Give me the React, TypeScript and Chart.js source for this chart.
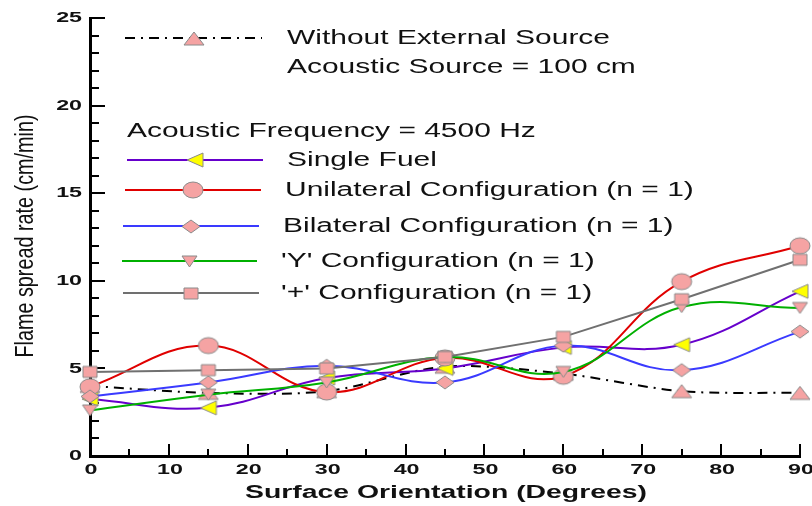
import { useEffect, useRef } from "react";
import { Chart, registerables } from "chart.js";

Chart.register(...registerables);

// ---------- data ----------
const orientations = [0, 15, 30, 45, 60, 75, 90];
const withoutSource = [4.0, 3.6, 3.7, 5.1, 4.7, 3.7, 3.6];
const singleFuel = [3.25, 2.75, 4.45, 5.0, 6.2, 6.35, 9.4];
const unilateral = [3.95, 6.3, 3.65, 5.6, 4.55, 9.95, 12.0];
const bilateral = [3.4, 4.2, 5.15, 4.2, 6.3, 4.9, 7.1];
const yConfig = [2.6, 3.5, 4.2, 5.65, 4.8, 8.5, 8.45];
const plusConfig = [4.8, 4.9, 5.0, 5.65, 6.8, 8.95, 11.2];

const seriesNames = [
  "Without External Source",
  "Single Fuel",
  "Unilateral Configuration (n = 1)",
  "Bilateral Configuration (n = 1)",
  "'Y' Configuration (n = 1)",
  "'+' Configuration (n = 1)",
];
const noteSource = "Acoustic Source = 100 cm";
const noteFrequency = "Acoustic Frequency = 4500 Hz";
const xTitle = "Surface Orientation (Degrees)";
const yTitle = "Flame spread rate (cm/min)";
const xTickLabels = [0, 10, 20, 30, 40, 50, 60, 70, 80, 90];
const yTickLabels = [0, 5, 10, 15, 20, 25];

// ---------- styling helpers ----------
const PINK = "#F5A3A3";
const MARK_EDGE = "#8a8a8a";
const YELLOW = "#FFFF00";

type Shape = "ellipse" | "triLeft" | "triDown" | "triUp" | "diamond" | "square";

function makeMarker(shape: Shape, w: number, h: number, fill: string) {
  const c = document.createElement("canvas");
  const pad = 2;
  c.width = w + pad * 2;
  c.height = h + pad * 2;
  const ctx = c.getContext("2d")!;
  ctx.translate(pad, pad);
  ctx.beginPath();
  switch (shape) {
    case "ellipse":
      ctx.ellipse(w / 2, h / 2, w / 2, h / 2, 0, 0, Math.PI * 2);
      break;
    case "triLeft":
      ctx.moveTo(0, h / 2);
      ctx.lineTo(w, 0);
      ctx.lineTo(w, h);
      break;
    case "triDown":
      ctx.moveTo(0, 0);
      ctx.lineTo(w, 0);
      ctx.lineTo(w / 2, h);
      break;
    case "triUp":
      ctx.moveTo(w / 2, 0);
      ctx.lineTo(w, h);
      ctx.lineTo(0, h);
      break;
    case "diamond":
      ctx.moveTo(w / 2, 0);
      ctx.lineTo(w, h / 2);
      ctx.lineTo(w / 2, h);
      ctx.lineTo(0, h / 2);
      break;
    case "square":
      ctx.rect(0, 0, w, h);
      break;
  }
  ctx.closePath();
  ctx.fillStyle = fill;
  ctx.fill();
  ctx.lineWidth = 1;
  ctx.strokeStyle = MARK_EDGE;
  ctx.stroke();
  return c;
}

function drawStretched(
  ctx: CanvasRenderingContext2D,
  text: string,
  x: number,
  y: number,
  font: string,
  sx: number,
  align: "left" | "center" | "right"
) {
  ctx.save();
  ctx.font = font;
  ctx.textBaseline = "middle";
  ctx.textAlign = "left";
  const w = ctx.measureText(text).width * sx;
  const x0 = align === "left" ? x : align === "center" ? x - w / 2 : x - w;
  ctx.translate(x0, y);
  ctx.scale(sx, 1);
  ctx.fillText(text, 0, 0);
  ctx.restore();
}

export default function App() {
  const ref = useRef<HTMLCanvasElement | null>(null);

  useEffect(() => {
    if (!ref.current) return;
    const markers = [
      makeMarker("triUp", 20, 13, PINK),
      makeMarker("triLeft", 16, 14, YELLOW),
      makeMarker("ellipse", 20, 16, PINK),
      makeMarker("diamond", 18, 13, PINK),
      makeMarker("triDown", 15, 11, PINK),
      makeMarker("square", 14, 11, PINK),
    ];
    const colors = ["#000000", "#6600CC", "#E00000", "#3A3AFF", "#00B000", "#707070"];
    const values = [withoutSource, singleFuel, unilateral, bilateral, yConfig, plusConfig];
    const tensions = [0.3, 0.4, 0.4, 0.4, 0.4, 0];
    const dashes = [[10, 6, 2, 6], [], [], [], [], []];

    const TEXT = "#111111";

    const overlay = {
      id: "overlay",
      beforeDatasetsDraw(chart: any) {
        const ctx: CanvasRenderingContext2D = chart.ctx;
        const xs = chart.scales.x;
        const ys = chart.scales.y;
        const area = chart.chartArea;
        ctx.save();
        ctx.strokeStyle = "#000";
        ctx.lineWidth = 2;
        for (let v = 0; v <= 25; v++) {
          const py = Math.round(ys.getPixelForValue(v));
          const len = v % 5 === 0 ? 15 : 9;
          ctx.beginPath();
          ctx.moveTo(area.left, py);
          ctx.lineTo(area.left + len, py);
          ctx.stroke();
        }
        for (let v = 0; v <= 90; v += 5) {
          const px = Math.round(xs.getPixelForValue(v));
          const len = v % 10 === 0 ? 12 : 7;
          ctx.beginPath();
          ctx.moveTo(px, area.bottom);
          ctx.lineTo(px, area.bottom - len);
          ctx.stroke();
        }
        ctx.restore();
      },
      afterDraw(chart: any) {
        const ctx: CanvasRenderingContext2D = chart.ctx;
        const xs = chart.scales.x;
        const ys = chart.scales.y;
        ctx.save();
        ctx.fillStyle = TEXT;
        const tickFont = "bold 15px 'Liberation Sans'";
        for (const v of yTickLabels) {
          drawStretched(ctx, String(v), 82, ys.getPixelForValue(v), tickFont, 1.55, "right");
        }
        for (const v of xTickLabels) {
          drawStretched(ctx, String(v), xs.getPixelForValue(v) + 1, 470, tickFont, 1.55, "center");
        }
        // x title
        const xtFont = "bold 18px 'Liberation Sans'";
        ctx.font = xtFont;
        const xtScale = 402 / ctx.measureText(xTitle).width;
        drawStretched(ctx, xTitle, 446, 493, xtFont, xtScale, "center");
        // y title
        const ytFont = "20px 'Liberation Sans'";
        ctx.font = ytFont;
        const ytScale = 243 / ctx.measureText(yTitle).width;
        ctx.save();
        ctx.translate(26, 236);
        ctx.rotate(-Math.PI / 2);
        ctx.scale(ytScale, 1.3);
        ctx.textAlign = "center";
        ctx.textBaseline = "middle";
        ctx.fillText(yTitle, 0, 0);
        ctx.restore();

        // legend
        const lgFont = "20px 'Liberation Sans'";
        ctx.font = lgFont;
        const lgScale = 323 / ctx.measureText(seriesNames[0]).width;
        const rows = [
          { x1: 125, x2: 262, y: 38, tx: 287 },
          { x1: 127, x2: 263, y: 160, tx: 287 },
          { x1: 125, x2: 261, y: 190, tx: 285 },
          { x1: 123, x2: 259, y: 226, tx: 283 },
          { x1: 122, x2: 257, y: 261, tx: 281 },
          { x1: 123, x2: 259, y: 293, tx: 281 },
        ];
        rows.forEach((r, i) => {
          ctx.save();
          ctx.strokeStyle = colors[i];
          ctx.lineWidth = 2;
          ctx.setLineDash(dashes[i]);
          ctx.beginPath();
          ctx.moveTo(r.x1, r.y);
          ctx.lineTo(r.x2, r.y);
          ctx.stroke();
          ctx.restore();
          const m = markers[i];
          const mx = (r.x1 + r.x2) / 2;
          ctx.drawImage(m, Math.round(mx - m.width / 2), Math.round(r.y - m.height / 2));
          ctx.fillStyle = TEXT;
          drawStretched(ctx, seriesNames[i], r.tx, r.y, lgFont, lgScale, "left");
        });
        drawStretched(ctx, noteSource, 287, 67, lgFont, lgScale, "left");
        drawStretched(ctx, noteFrequency, 127, 131, lgFont, lgScale, "left");
        ctx.restore();
      },
    };

    const datasets = values.map((vals, i) => ({
      label: seriesNames[i],
      data: orientations.map((x, j) => ({ x, y: vals[j] })),
      borderColor: colors[i],
      backgroundColor: PINK,
      borderWidth: 2,
      borderDash: dashes[i],
      tension: tensions[i],
      pointStyle: markers[i],
      pointRadius: 6,
      pointHoverRadius: 6,
      clip: false as any,
      order: 6 - i,
    }));

    const chart = new Chart(ref.current, {
      type: "line",
      data: { datasets } as any,
      plugins: [overlay],
      options: {
        animation: false,
        responsive: false,
        events: [],
        layout: { padding: { top: 18, right: 12, left: 0, bottom: 0 } },
        plugins: { legend: { display: false }, tooltip: { enabled: false } },
        scales: {
          x: {
            type: "linear",
            min: 0,
            max: 90,
            ticks: { display: false, stepSize: 10 },
            grid: { display: false },
            border: { display: true, color: "#000", width: 3 },
            afterFit: (s: any) => {
              s.height = 50;
            },
          },
          y: {
            type: "linear",
            min: 0,
            max: 25,
            ticks: { display: false, stepSize: 5 },
            grid: { display: false },
            border: { display: true, color: "#000", width: 3 },
            afterFit: (s: any) => {
              s.width = 90;
            },
          },
        },
      } as any,
    });
    return () => chart.destroy();
  }, []);

  return (
    <div style={{ position: "fixed", left: 0, top: 0, width: 812, height: 506, background: "#fff" }}>
      <canvas ref={ref} width={812} height={506} style={{ width: 812, height: 506, display: "block" }} />
    </div>
  );
}
